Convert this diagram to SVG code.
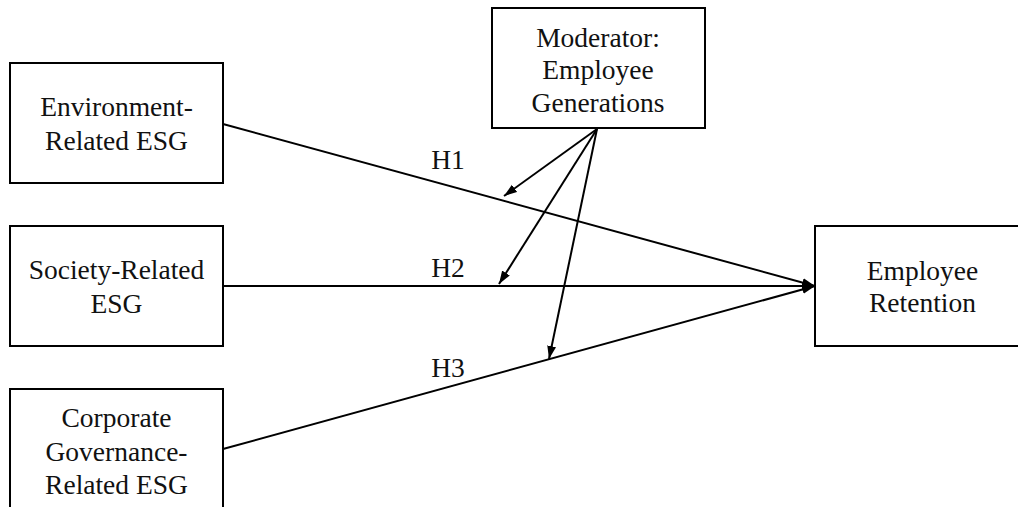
<svg xmlns="http://www.w3.org/2000/svg" width="1018" height="507" viewBox="0 0 1018 507">
<style>
.box{fill:#fff;stroke:#000;stroke-width:2}
.lbl{font-family:"Liberation Serif","Times New Roman",serif;font-size:27.5px;fill:#111;text-anchor:middle}
.ln{stroke:#000;stroke-width:2;fill:none;marker-end:url(#ah)}
</style>
<defs>
<marker id="ah" markerUnits="userSpaceOnUse" markerWidth="14" markerHeight="10" refX="13" refY="4.5" orient="auto">
<path d="M0,0 L13,4.5 L0,9 z" fill="#000"/>
</marker>
</defs>
<rect width="1018" height="507" fill="#fff"/>
<g id="connectors">
<line class="ln" x1="223" y1="124" x2="815" y2="286"/>
<line class="ln" x1="223" y1="286" x2="815" y2="286"/>
<line class="ln" x1="223" y1="449" x2="815" y2="286"/>
<line class="ln" x1="597" y1="129" x2="504" y2="196"/>
<line class="ln" x1="597" y1="129" x2="499" y2="284"/>
<line class="ln" x1="597" y1="129" x2="549" y2="359"/>
<text class="lbl" x="448" y="169">H1</text>
<text class="lbl" x="448" y="277">H2</text>
<text class="lbl" x="448" y="377">H3</text>
</g>
<g id="env">
<rect class="box" x="10" y="63" width="213" height="120"/>
<text class="lbl" x="116.5" y="116">Environment-</text>
<text class="lbl" x="116.5" y="150">Related ESG</text>
</g>
<g id="soc">
<rect class="box" x="10" y="226" width="213" height="120"/>
<text class="lbl" x="116.5" y="279">Society-Related</text>
<text class="lbl" x="116.5" y="313">ESG</text>
</g>
<g id="corp">
<rect class="box" x="10" y="389" width="213" height="130"/>
<text class="lbl" x="116.5" y="427">Corporate</text>
<text class="lbl" x="116.5" y="461">Governance-</text>
<text class="lbl" x="116.5" y="494">Related ESG</text>
</g>
<g id="mod">
<rect class="box" x="492" y="8" width="213" height="120"/>
<text class="lbl" x="598" y="47">Moderator:</text>
<text class="lbl" x="598" y="79">Employee</text>
<text class="lbl" x="598" y="112">Generations</text>
</g>
<g id="ret">
<rect class="box" x="815" y="226" width="215" height="120"/>
<text class="lbl" x="922.5" y="280">Employee</text>
<text class="lbl" x="922.5" y="312">Retention</text>
</g>
</svg>
